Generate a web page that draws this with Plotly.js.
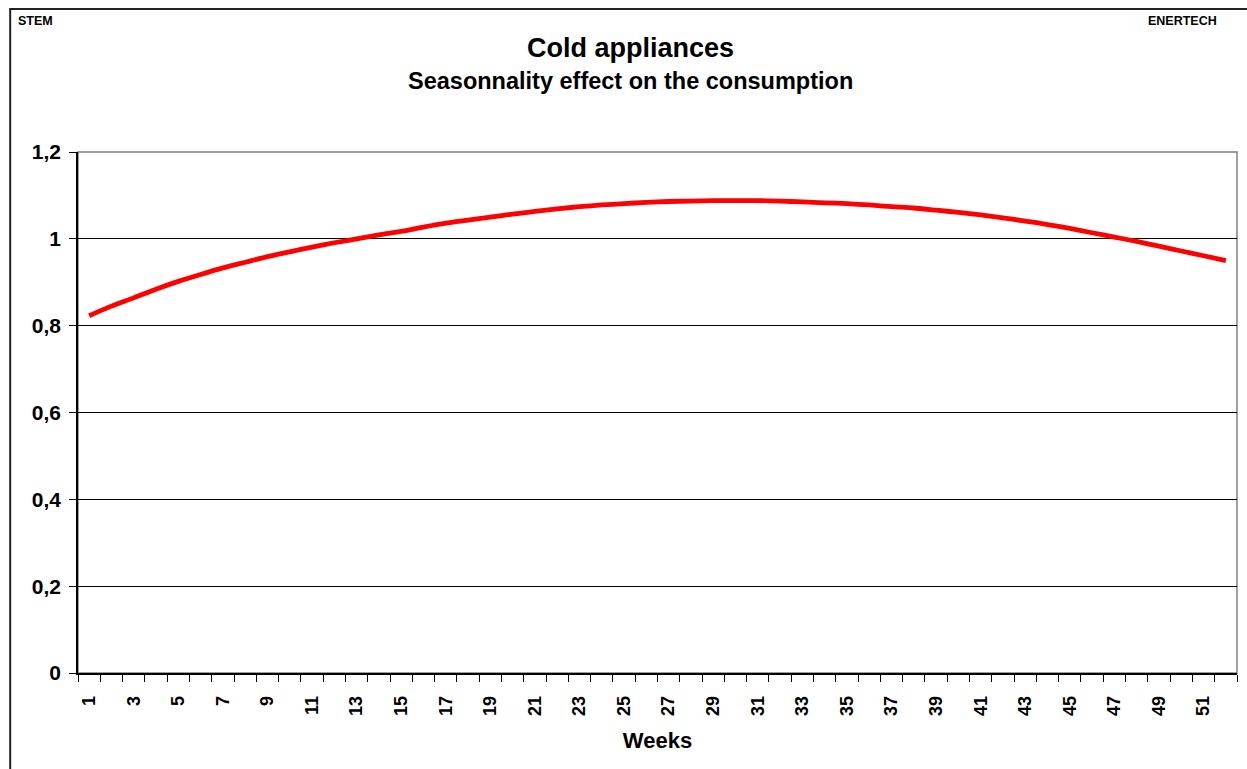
<!DOCTYPE html>
<html>
<head>
<meta charset="utf-8">
<script src="https://cdn.plot.ly/plotly-3.0.1.min.js"></script>
<style>
html,body{margin:0;padding:0;background:#fff;}
#chart{width:1247px;height:769px;}
</style>
</head>
<body>
<div id="chart"></div>
<script>
var weeks = [1,2,3,4,5,6,7,8,9,10,11,12,13,14,15,16,17,18,19,20,21,22,23,24,25,26,27,28,29,30,31,32,33,34,35,36,37,38,39,40,41,42,43,44,45,46,47,48,49,50,51,52];
var seasonality = [0.823,0.845,0.864,0.884,0.902,0.918,0.933,0.946,0.959,0.970,0.981,0.991,1.000,1.009,1.017,1.027,1.036,1.043,1.050,1.057,1.063,1.069,1.074,1.078,1.081,1.084,1.086,1.087,1.088,1.088,1.088,1.087,1.085,1.083,1.081,1.078,1.074,1.071,1.066,1.061,1.055,1.048,1.041,1.033,1.024,1.014,1.004,0.994,0.983,0.972,0.961,0.950];
var weekTickVals = [1,3,5,7,9,11,13,15,17,19,21,23,25,27,29,31,33,35,37,39,41,43,45,47,49,51];
var weekTickText = ["1","3","5","7","9","11","13","15","17","19","21","23","25","27","29","31","33","35","37","39","41","43","45","47","49","51"];
var yTickVals = [0,0.2,0.4,0.6,0.8,1,1.2];

var FONT = "Liberation Sans, Arial, sans-serif";

var trace = {
  x: weeks,
  y: seasonality,
  type: "scatter",
  mode: "lines",
  line: {color: "#ff0000", width: 4.8, shape: "spline", smoothing: 0.6},
  hoverinfo: "x+y"
};

var layout = {
  width: 1247,
  height: 769,
  paper_bgcolor: "#ffffff",
  plot_bgcolor: "#ffffff",
  separators: ",.",
  showlegend: false,
  margin: {l: 78, r: 10, t: 152, b: 96, pad: 0},
  font: {family: FONT, color: "#000"},
  xaxis: {
    type: "linear",
    range: [0.5, 52.5],
    tickmode: "array",
    tickvals: weekTickVals,
    ticktext: weekTickText,
    ticks: "",
    tickangle: -90,
    ticklabelstandoff: 14,
    tickfont: {family: FONT, size: 18, weight: 700, color: "#000"},
    showgrid: false,
    zeroline: false,
    showline: true,
    linecolor: "#000",
    linewidth: 1.5,
    minor: {tickmode: "linear", tick0: 0.5, dtick: 1, ticks: "outside", ticklen: 7, tickcolor: "#000", tickwidth: 1, showgrid: false},
    title: {text: "Weeks", font: {family: FONT, size: 22, weight: 700, color: "#000"}, standoff: 18},
    automargin: false,
    fixedrange: true
  },
  yaxis: {
    range: [0, 1.2],
    tickmode: "array",
    tickvals: yTickVals,
    ticks: "outside",
    ticklen: 7,
    tickcolor: "#000",
    tickwidth: 1,
    ticklabelstandoff: 4,
    tickfont: {family: FONT, size: 21, weight: 700, color: "#000"},
    showgrid: true,
    gridcolor: "#000",
    gridwidth: 1,
    zeroline: false,
    showline: true,
    linecolor: "#000",
    linewidth: 1.5,
    automargin: false,
    fixedrange: true
  },
  shapes: [
    {type: "rect", xref: "paper", yref: "paper", x0: 0, x1: 1, y0: 0, y1: 1, line: {color: "#808080", width: 1.5}, layer: "below"},
    {type: "rect", xref: "paper", yref: "paper", x0: -0.0585, x1: 1.05, y0: -0.25, y1: 1.2745, line: {color: "#222", width: 2}, layer: "below"}
  ],
  annotations: [
    {text: "Cold appliances", xref: "paper", yref: "paper", x: (630 - 78) / 1159, y: (673 - 48) / 521, xanchor: "center", yanchor: "middle", showarrow: false, font: {family: FONT, size: 27, weight: 700, color: "#000"}},
    {text: "Seasonnality effect on the consumption", xref: "paper", yref: "paper", x: (630 - 78) / 1159, y: (673 - 81) / 521, xanchor: "center", yanchor: "middle", showarrow: false, font: {family: FONT, size: 23.5, weight: 700, color: "#000"}},
    {text: "STEM", xref: "paper", yref: "paper", x: (16 - 78) / 1159, y: (673 - 21) / 521, xanchor: "left", yanchor: "middle", showarrow: false, font: {family: FONT, size: 12.5, weight: 700, color: "#000"}},
    {text: "ENERTECH", xref: "paper", yref: "paper", x: (1219 - 78) / 1159, y: (673 - 21) / 521, xanchor: "right", yanchor: "middle", showarrow: false, font: {family: FONT, size: 12.5, weight: 700, color: "#000"}}
  ]
};

Plotly.newPlot("chart", [trace], layout, {displayModeBar: false, staticPlot: false});
</script>
</body>
</html>
